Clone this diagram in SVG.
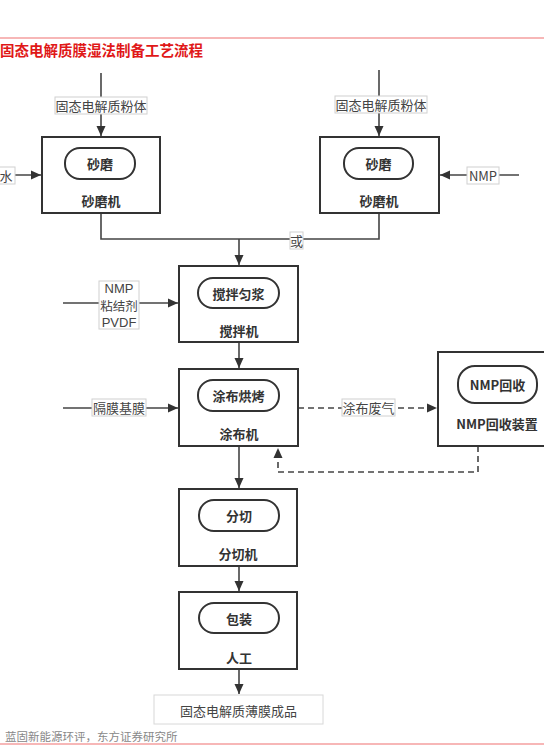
<svg xmlns="http://www.w3.org/2000/svg" width="544" height="751" viewBox="0 0 544 751">
<defs>
<style>
text{font-family:"Noto Sans CJK SC","Noto Sans",sans-serif;text-anchor:middle;dominant-baseline:central}
.box{fill:#fff;stroke:#333;stroke-width:2}
.pill{fill:#fff;stroke:#333;stroke-width:2}
.b{font-size:13px;font-weight:bold;fill:#333}
.lbl{fill:#fff;stroke:#d0d0d0;stroke-width:1}
.lt{font-size:13px;fill:#444}
.lat{font-family:"Liberation Sans","Noto Sans",sans-serif;font-size:13px}
.ln{fill:none;stroke:#444;stroke-width:1.6}
.dash{fill:none;stroke:#444;stroke-width:1.6;stroke-dasharray:6 4}
</style>
<marker id="ah" viewBox="0 0 10 10" refX="10" refY="5" markerWidth="10" markerHeight="10" markerUnits="userSpaceOnUse" orient="auto">
<path d="M0,0.5 L10,5 L0,9.5 Z" fill="#333"/>
</marker>
</defs>
<rect width="544" height="751" fill="#fff"/>
<line x1="0" y1="38" x2="544" y2="38" stroke="#f07070" stroke-width="1.2"/>
<text x="0" y="49" style="text-anchor:start;font-size:14.5px;font-weight:bold;fill:#e01818">固态电解质膜湿法制备工艺流程</text>
<g id="connectors">
<line class="ln" x1="101" y1="73" x2="101" y2="136" marker-end="url(#ah)"/>
<line class="ln" x1="379" y1="70" x2="379" y2="136" marker-end="url(#ah)"/>
<line class="ln" x1="0" y1="175" x2="41" y2="175" marker-end="url(#ah)"/>
<line class="ln" x1="519" y1="175" x2="440" y2="175" marker-end="url(#ah)"/>
<polyline class="ln" points="101,213 101,239 379,239 379,213"/>
<line class="ln" x1="239" y1="239" x2="239" y2="265" marker-end="url(#ah)"/>
<line class="ln" x1="63" y1="303" x2="178" y2="303" marker-end="url(#ah)"/>
<line class="ln" x1="239" y1="342" x2="239" y2="368" marker-end="url(#ah)"/>
<line class="ln" x1="63" y1="408" x2="178" y2="408" marker-end="url(#ah)"/>
<line class="dash" x1="298" y1="408" x2="437" y2="408" marker-end="url(#ah)"/>
<polyline class="dash" points="478,446 478,472 278,472 278,448" marker-end="url(#ah)"/>
<line class="ln" x1="239" y1="446" x2="239" y2="488" marker-end="url(#ah)"/>
<line class="ln" x1="239" y1="566" x2="239" y2="591" marker-end="url(#ah)"/>
<line class="ln" x1="239" y1="669" x2="239" y2="694" marker-end="url(#ah)"/>
<rect class="lbl" x="55" y="97" width="92" height="17"/>
<text class="lt" x="101" y="105.5">固态电解质粉体</text>
<rect class="lbl" x="335" y="96" width="92" height="17"/>
<text class="lt" x="381" y="104.5">固态电解质粉体</text>
<rect class="lbl" x="-5" y="167" width="20" height="17"/>
<text class="lt" x="6" y="175.5">水</text>
<rect class="lbl" x="467" y="167" width="32" height="17"/>
<text class="lt" x="483" y="175.5">NMP</text>
<rect class="lbl" x="290" y="232" width="13" height="17"/>
<text class="lt" x="296.5" y="240.5">或</text>
<rect class="lbl" x="99" y="281" width="40" height="48"/>
<text class="lt lat" x="119" y="288">NMP</text>
<text class="lt" x="119" y="305" style="font-size:12.5px">粘结剂</text>
<text class="lt lat" x="119" y="322">PVDF</text>
<rect class="lbl" x="92" y="399" width="54" height="17"/>
<text class="lt" x="119" y="407.5">隔膜基膜</text>
<rect class="lbl" x="342" y="399" width="53" height="17"/>
<text class="lt" x="368.5" y="407.5">涂布废气</text>
</g>
<g id="mill1">
<rect class="box" x="42" y="137" width="118" height="76"/>
<rect class="pill" x="65" y="148" width="70" height="31" rx="15"/>
<text class="b" x="100" y="163.5">砂磨</text>
<text class="b" x="101" y="200">砂磨机</text>
</g>
<g id="mill2">
<rect class="box" x="320" y="137" width="119" height="76"/>
<rect class="pill" x="344" y="148" width="69" height="31" rx="15"/>
<text class="b" x="378.5" y="163.5">砂磨</text>
<text class="b" x="379" y="200">砂磨机</text>
</g>
<g id="mixer">
<rect class="box" x="179" y="266" width="119" height="76"/>
<rect class="pill" x="198" y="278" width="81" height="30" rx="15"/>
<text class="b" x="238.5" y="293">搅拌匀浆</text>
<text class="b" x="239" y="330">搅拌机</text>
</g>
<g id="coater">
<rect class="box" x="179" y="369" width="119" height="77"/>
<rect class="pill" x="198" y="380" width="81" height="31" rx="15"/>
<text class="b" x="238.5" y="395.5">涂布烘烤</text>
<text class="b" x="239" y="433">涂布机</text>
</g>
<g id="nmp">
<rect class="box" x="438" y="352" width="118" height="94"/>
<rect class="pill" x="458" y="366" width="79" height="37" rx="17"/>
<text class="b" x="497.5" y="384.5">NMP回收</text>
<text class="b" x="497" y="423">NMP回收装置</text>
</g>
<g id="cutter">
<rect class="box" x="179" y="489" width="118" height="77"/>
<rect class="pill" x="199" y="500" width="80" height="31" rx="15"/>
<text class="b" x="239" y="515.5">分切</text>
<text class="b" x="238" y="553">分切机</text>
</g>
<g id="pack">
<rect class="box" x="179" y="592" width="118" height="77"/>
<rect class="pill" x="199" y="603" width="80" height="30" rx="15"/>
<text class="b" x="239" y="618">包装</text>
<text class="b" x="239" y="657">人工</text>
</g>
<g id="product">
<rect x="154" y="695" width="169" height="29" fill="#fff" stroke="#d8d8d8" stroke-width="1"/>
<text class="lt" x="238.5" y="710">固态电解质薄膜成品</text>
</g>
<text x="5" y="736" style="text-anchor:start;font-size:11.5px;fill:#888">蓝固新能源环评，东方证券研究所</text>
<line x1="0" y1="744" x2="544" y2="744" stroke="#f07070" stroke-width="1.2"/>
</svg>
